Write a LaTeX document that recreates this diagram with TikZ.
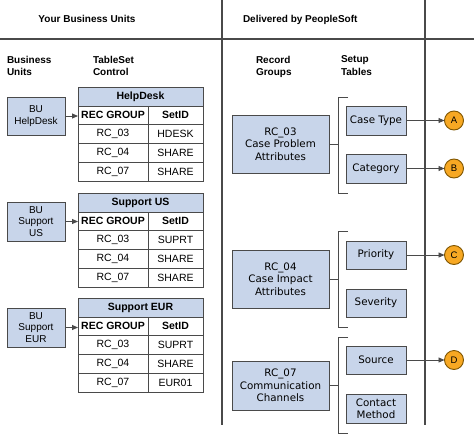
\documentclass[tikz,border=0pt]{standalone}
\usepackage{fontspec}
\setmainfont{Liberation Sans}
\newfontfamily\vfont{DejaVu Sans}
\usetikzlibrary{arrows.meta}
\definecolor{boxblue}{HTML}{C8D5EA}
\definecolor{edge}{HTML}{4A4A4A}
\definecolor{orng}{HTML}{F7A823}
\definecolor{orngedge}{HTML}{7F5500}
\tikzset{
 every node/.style={inner sep=0pt, outer sep=0pt},
 bubox/.style={draw=edge, fill=boxblue, line width=0.9pt, minimum width=58pt, align=center, font=\fontsize{10}{11.5}\selectfont},
 hdrcell/.style={draw=edge, fill=boxblue, line width=0.9pt, minimum width=125pt, minimum height=19pt, font=\bfseries\fontsize{10.5}{12}\selectfont},
 lcell/.style={draw=edge, fill=white, line width=0.9pt, minimum width=70pt, minimum height=18.75pt, font=\fontsize{10.5}{12}\selectfont},
 rcell/.style={lcell, minimum width=55pt},
 boldcell/.style={font=\bfseries\fontsize{10.5}{12}\selectfont},
 rcbox/.style={draw=edge, fill=boxblue, line width=0.9pt, minimum width=97pt, align=center, font=\vfont\fontsize{10.3}{12.5}\selectfont},
 setbox/.style={draw=edge, fill=boxblue, line width=0.9pt, minimum width=60pt, align=center, font=\vfont\fontsize{10.3}{12}\selectfont},
 letterdot/.style={circle, draw=orngedge, fill=orng, line width=0.9pt, minimum size=19pt, font=\fontsize{9.5}{10}\selectfont},
 heading/.style={font=\bfseries\fontsize{10}{12.5}\selectfont, align=left, anchor=north west},
 title/.style={font=\bfseries\fontsize{10}{12}\selectfont},
 link/.style={draw=edge, line width=0.9pt, -{Triangle[length=6pt,width=5pt]}},
 conn/.style={draw=edge, line width=0.9pt},
 divider/.style={draw=edge, line width=1.2pt},
}
\newcommand\sstable[6]{%
 \node[hdrcell] (#1t) at (140.5,{#2+9.5}) {#3};
 \node[lcell,boldcell] (#1g) at (113,{#2+28.375}) {REC GROUP};
 \node[rcell,boldcell] (#1s) at (175.5,{#2+28.375}) {SetID};
 \node[lcell] (#1a) at (113,{#2+47.125}) {RC\_03};
 \node[rcell] (#1x) at (175.5,{#2+47.125}) {#4};
 \node[lcell] (#1b) at (113,{#2+65.875}) {RC\_04};
 \node[rcell] (#1y) at (175.5,{#2+65.875}) {#5};
 \node[lcell] (#1c) at (113,{#2+84.625}) {RC\_07};
 \node[rcell] (#1z) at (175.5,{#2+84.625}) {#6};
}
\begin{document}
\begin{tikzpicture}[x=1pt,y=-1pt]
\useasboundingbox (0,0) rectangle (474,434);
% dividers
\draw[divider] (0,39) -- (474,39);
\draw[divider] (222,0) -- (222,425);
\draw[divider] (425,0) -- (425,425);
% titles
\node[title,anchor=base] (t1) at (87,22) {Your Business Units};
\node[title,anchor=base west] (t2) at (243,22) {Delivered by PeopleSoft};
% column headings
\node[heading] (hbu) at (7,56) {Business\\Units};
\node[heading] (htc) at (93,56) {TableSet\\Control};
\node[heading] (hrg) at (256,56) {Record\\Groups};
\node[heading] (hst) at (341,56) {Setup\\Tables};
% business units
\node[bubox,minimum height=38pt] (buhd) at (36,116) {BU\\HelpDesk};
\node[bubox,minimum height=39pt] (buus) at (36,221.5) {BU\\Support\\US};
\node[bubox,minimum height=39pt] (bueu) at (36,327.5) {BU\\Support\\EUR};
% tables
\sstable{hd}{87}{HelpDesk}{HDESK}{SHARE}{SHARE}
\sstable{us}{193}{Support US}{SUPRT}{SHARE}{SHARE}
\sstable{eu}{298}{Support EUR}{SUPRT}{SHARE}{EUR01}
\draw[link] (buhd.east) -- (buhd.east -| hdg.west);
\draw[link] (buus.east) -- (buus.east -| usg.west);
\draw[link] (bueu.east) -- (bueu.east -| eug.west);
% record groups
\node[rcbox,minimum height=58pt] (rc3) at (280.5,144) {RC\_03\\Case Problem\\Attributes};
\node[rcbox,minimum height=58pt] (rc4) at (280.5,279) {RC\_04\\Case Impact\\Attributes};
\node[rcbox,minimum height=49pt] (rc7) at (280.5,385.5) {RC\_07\\Communication\\Channels};
% setup tables
\node[setbox,minimum height=29pt] (ct) at (376,120.5) {Case Type};
\node[setbox,minimum height=29pt] (cat) at (376,168.5) {Category};
\node[setbox,minimum height=28pt] (pri) at (376,255) {Priority};
\node[setbox,minimum height=28pt] (sev) at (376,303) {Severity};
\node[setbox,minimum height=28pt] (src) at (376,360) {Source};
\node[setbox,minimum height=29pt] (cm) at (376,408.5) {Contact\\Method};
% brackets
\coordinate (b3) at (338,144);
\coordinate (b4) at (338,279);
\coordinate (b7) at (338,385.5);
\draw[conn] (348,97) -- (338,97) -- (338,193) -- (348,193);
\draw[conn] (348,231) -- (338,231) -- (338,327) -- (348,327);
\draw[conn] (348,337) -- (338,337) -- (338,433) -- (348,433);
\draw[conn] (rc3.east) -- (b3);
\draw[conn] (rc4.east) -- (b4);
\draw[conn] (rc7.east) -- (b7);
% letters
\node[letterdot] (A) at (454,120.5) {A};
\node[letterdot] (B) at (454,168.5) {B};
\node[letterdot] (C) at (454,255) {C};
\node[letterdot] (D) at (454,360) {D};
\draw[link] (ct.east) -- (A.west);
\draw[link] (cat.east) -- (B.west);
\draw[link] (pri.east) -- (C.west);
\draw[link] (src.east) -- (D.west);
\end{tikzpicture}
\end{document}
